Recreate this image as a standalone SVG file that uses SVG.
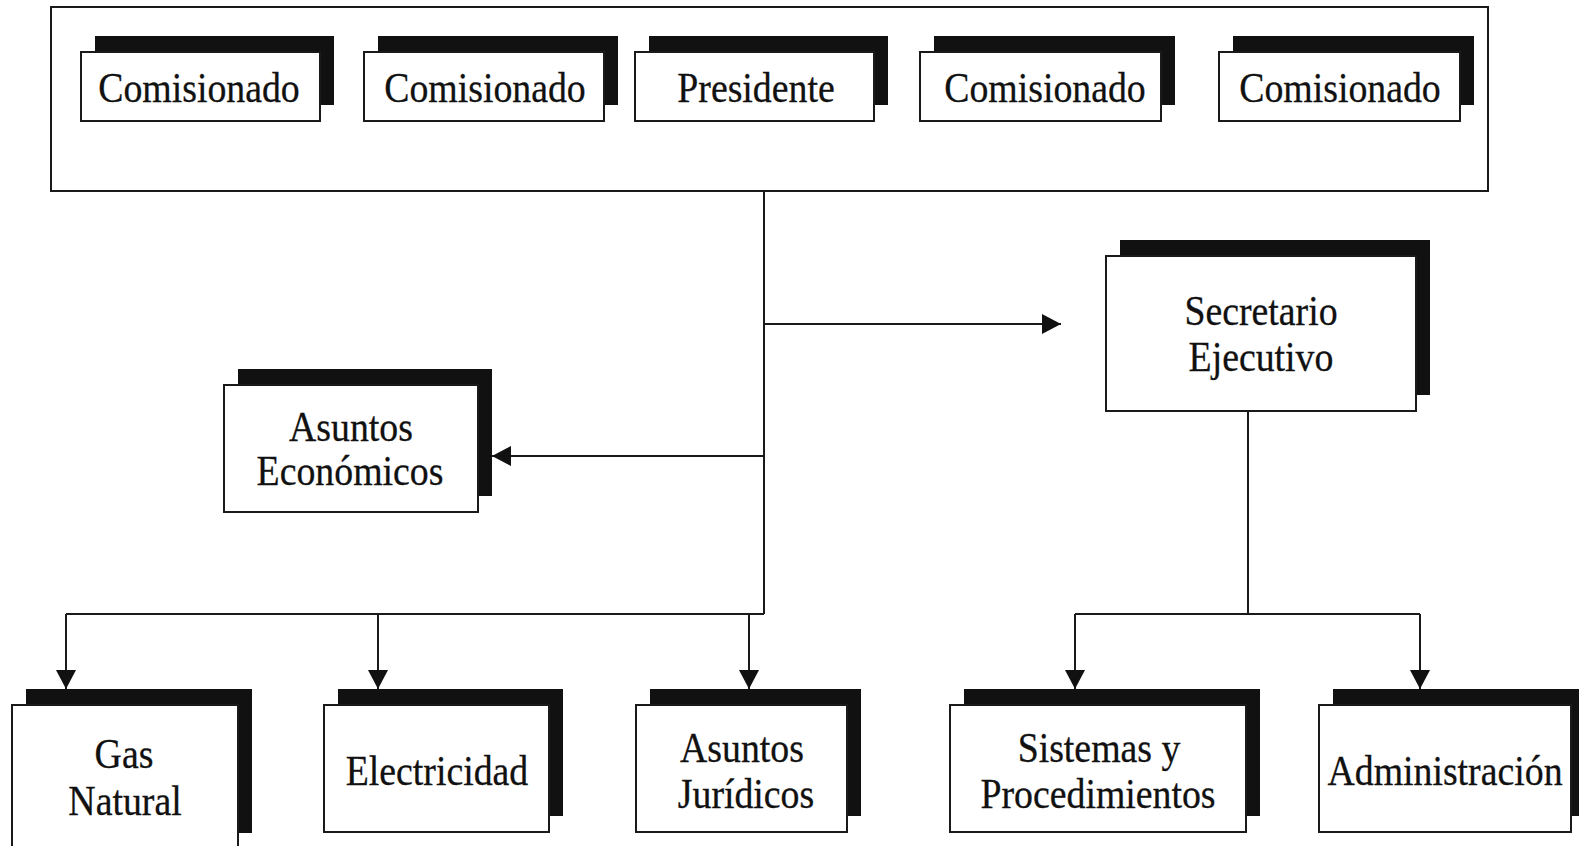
<svg xmlns="http://www.w3.org/2000/svg" width="1579" height="846" viewBox="0 0 1579 846">
<style>
.bg{fill:#fff}
.outer{fill:#fff;stroke:#1a1a1a;stroke-width:2}
.sh{fill:#111}
.box{fill:#fff;stroke:#1a1a1a;stroke-width:2}
.t{font-family:"Liberation Serif","Times New Roman",serif;font-size:42px;fill:#111;text-anchor:middle;stroke:#111;stroke-width:0.3}
.ln{fill:none;stroke:#1a1a1a;stroke-width:2}
</style>
<defs>
<marker id="ah" markerUnits="userSpaceOnUse" markerWidth="19" markerHeight="20" refX="19" refY="10" orient="auto">
<path d="M0,0 L19,10 L0,20 z" fill="#111"/>
</marker>
</defs>
<rect class="bg" x="0" y="0" width="1579" height="846"/>
<g id="board">
<rect class="outer" x="51" y="7" width="1437" height="184"/>
</g>
<g id="n-com1">
<rect class="sh" x="95" y="36" width="239" height="69"/>
<rect class="box" x="81" y="52" width="239" height="69"/>
<text class="t" transform="translate(199 102) scale(0.9 1)">Comisionado</text>
</g>
<g id="n-com2">
<rect class="sh" x="378" y="36" width="240" height="69"/>
<rect class="box" x="364" y="52" width="240" height="69"/>
<text class="t" transform="translate(485 102) scale(0.9 1)">Comisionado</text>
</g>
<g id="n-pres">
<rect class="sh" x="649" y="36" width="239" height="69"/>
<rect class="box" x="635" y="52" width="239" height="69"/>
<text class="t" transform="translate(756 102) scale(0.9 1)">Presidente</text>
</g>
<g id="n-com3">
<rect class="sh" x="934" y="36" width="241" height="69"/>
<rect class="box" x="920" y="52" width="241" height="69"/>
<text class="t" transform="translate(1045 102) scale(0.9 1)">Comisionado</text>
</g>
<g id="n-com4">
<rect class="sh" x="1233" y="36" width="241" height="69"/>
<rect class="box" x="1219" y="52" width="241" height="69"/>
<text class="t" transform="translate(1340 102) scale(0.9 1)">Comisionado</text>
</g>
<g id="connectors">
<line class="ln" x1="764" y1="191" x2="764" y2="614"/>
<line class="ln" x1="764" y1="324" x2="1061" y2="324" marker-end="url(#ah)"/>
<line class="ln" x1="764" y1="456" x2="492" y2="456" marker-end="url(#ah)"/>
<line class="ln" x1="66" y1="614" x2="764" y2="614"/>
<line class="ln" x1="66" y1="614" x2="66" y2="689" marker-end="url(#ah)"/>
<line class="ln" x1="378" y1="614" x2="378" y2="689" marker-end="url(#ah)"/>
<line class="ln" x1="749" y1="614" x2="749" y2="689" marker-end="url(#ah)"/>
<line class="ln" x1="1248" y1="411" x2="1248" y2="614"/>
<line class="ln" x1="1075" y1="614" x2="1420" y2="614"/>
<line class="ln" x1="1075" y1="614" x2="1075" y2="689" marker-end="url(#ah)"/>
<line class="ln" x1="1420" y1="614" x2="1420" y2="689" marker-end="url(#ah)"/>
</g>
<g id="n-secretario">
<rect class="sh" x="1120" y="240" width="310" height="155"/>
<rect class="box" x="1106" y="256" width="310" height="155"/>
<text class="t" transform="translate(1261 325) scale(0.9 1)">Secretario</text>
<text class="t" transform="translate(1261 371) scale(0.9 1)">Ejecutivo</text>
</g>
<g id="n-economicos">
<rect class="sh" x="238" y="369" width="254" height="127"/>
<rect class="box" x="224" y="385" width="254" height="127"/>
<text class="t" transform="translate(351 441) scale(0.9 1)">Asuntos</text>
<text class="t" transform="translate(350 485) scale(0.9 1)">Económicos</text>
</g>
<g id="n-gas">
<rect class="sh" x="26" y="689" width="226" height="144"/>
<rect class="box" x="12" y="705" width="226" height="160"/>
<text class="t" transform="translate(124 768) scale(0.9 1)">Gas</text>
<text class="t" transform="translate(125 815) scale(0.9 1)">Natural</text>
</g>
<g id="n-electricidad">
<rect class="sh" x="338" y="689" width="225" height="127"/>
<rect class="box" x="324" y="705" width="225" height="127"/>
<text class="t" transform="translate(437 785) scale(0.9 1)">Electricidad</text>
</g>
<g id="n-juridicos">
<rect class="sh" x="650" y="689" width="211" height="127"/>
<rect class="box" x="636" y="705" width="211" height="127"/>
<text class="t" transform="translate(742 762) scale(0.9 1)">Asuntos</text>
<text class="t" transform="translate(746 808) scale(0.9 1)">Jurídicos</text>
</g>
<g id="n-sistemas">
<rect class="sh" x="964" y="689" width="296" height="127"/>
<rect class="box" x="950" y="705" width="296" height="127"/>
<text class="t" transform="translate(1099 762) scale(0.9 1)">Sistemas y</text>
<text class="t" transform="translate(1098 808) scale(0.9 1)">Procedimientos</text>
</g>
<g id="n-administracion">
<rect class="sh" x="1333" y="689" width="252" height="127"/>
<rect class="box" x="1319" y="705" width="252" height="127"/>
<text class="t" transform="translate(1445 785) scale(0.9 1)">Administración</text>
</g>
</svg>
